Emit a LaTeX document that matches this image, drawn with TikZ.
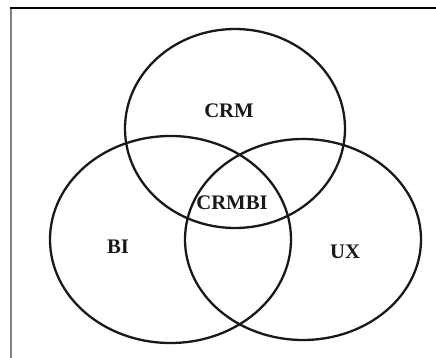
\documentclass[tikz,border=0pt]{standalone}
\usepackage{fontspec}
\setmainfont{Liberation Serif}
\begin{document}
\begin{tikzpicture}[x=1pt,y=-1pt,
  venn/.style={draw=black!90, line width=2.3pt},
  lbl/.style={font=\fontsize{20.7}{24}\selectfont\bfseries, text=black!90, inner sep=0pt}]
\useasboundingbox (0,0) rectangle (436,358);
\fill[white] (0,0) rectangle (436,358);
\draw[black!50, line width=2pt] (11,358) -- (11,8);
\draw[black, line width=1.3pt] (10,8) -- (436,8);
\draw[venn] (235,128.5) ellipse [x radius=110, y radius=99.5];
\draw[venn] (170.5,239.5) ellipse [x radius=120.5, y radius=103.5];
\draw[venn] (303,239.5) ellipse [x radius=118, y radius=100.5];
\node[lbl] (crm) at (229,111) {CRM};
\node[lbl] (crmbi) at (232,203) {CRMBI};
\node[lbl] (bi) at (118,247) {BI};
\node[lbl] (ux) at (345,252) {UX};
\end{tikzpicture}
\end{document}
